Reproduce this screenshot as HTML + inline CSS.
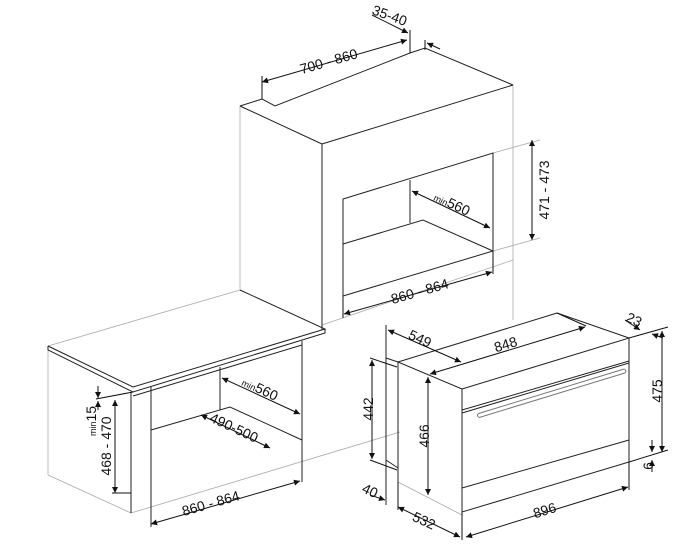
<!DOCTYPE html>
<html><head><meta charset="utf-8"><style>
html,body{margin:0;padding:0;background:#fff}
svg{display:block}
text{font-family:"Liberation Sans",sans-serif;font-size:14px;fill:#111}
.s{font-size:9px}
</style></head><body>
<svg width="700" height="560" viewBox="0 0 700 560" xmlns="http://www.w3.org/2000/svg">
<defs>
<marker id="a" viewBox="0 0 10 10" refX="10" refY="5" markerWidth="8" markerHeight="6" orient="auto-start-reverse" markerUnits="userSpaceOnUse"><path d="M0,0 L10,5 L0,10 z" fill="#111"/></marker>
</defs>
<g fill="none" stroke="#aaa" stroke-width="0.8">
<line x1="240" y1="106" x2="240" y2="290"/>
<line x1="513" y1="85" x2="513" y2="320"/>
<line x1="322" y1="325" x2="513" y2="260"/>
<line x1="48" y1="350" x2="48" y2="475"/>
<line x1="48" y1="475" x2="131" y2="513"/>
<line x1="131" y1="513" x2="400" y2="432"/>
<line x1="48" y1="346" x2="240" y2="290"/>
<line x1="493" y1="153" x2="540" y2="140"/>
<line x1="493" y1="251" x2="540" y2="238"/>
<line x1="398" y1="482" x2="462" y2="515"/>
</g>
<g fill="none" stroke="#222" stroke-width="1">
<polyline points="240,106 262,99 275,106 410,53 425,48 513,85"/>
<line x1="240" y1="106" x2="322" y2="144"/>
<line x1="322" y1="144" x2="513" y2="85"/>
<line x1="322" y1="144" x2="322" y2="330"/>
<polyline points="343,296 343,199 493,153 493,251 343,296"/>
<line x1="410" y1="180" x2="410" y2="223"/>
<polyline points="343,244 423,220 493,251"/>
<polyline points="48,346 133,387 325,329 240,290"/>
<polyline points="48,346 48,350 133,392 325,333 325,329"/>
<line x1="133" y1="396" x2="302" y2="345"/>
<line x1="131" y1="392" x2="131" y2="513"/>
<line x1="302" y1="341" x2="302" y2="482"/>
<line x1="151" y1="387" x2="151" y2="527"/>
<line x1="220" y1="367" x2="220" y2="410"/>
<polyline points="151,430 230,407 302,440"/>
<line x1="386" y1="325" x2="386" y2="505"/>
<polyline points="386,358 398,362 398,482"/>
<polyline points="386,460 398,468"/>
<line x1="398" y1="362" x2="462" y2="389"/>
<line x1="398" y1="362" x2="557" y2="313"/>
<line x1="557" y1="313" x2="629" y2="338"/>
<polyline points="462,389 629,338 629,462 462,512 462,389"/>
<line x1="462" y1="410" x2="629" y2="361"/>
<line x1="462" y1="413" x2="629" y2="363"/>
<line x1="462" y1="488" x2="629" y2="440"/>
<rect x="0" y="0" width="155" height="4" rx="2" transform="translate(477,414) rotate(-17)" stroke="#777"/>
</g>
<g fill="none" stroke="#111" stroke-width="1">
<line x1="262" y1="76" x2="262" y2="99"/>
<line x1="410" y1="30" x2="410" y2="53"/>
<line x1="425" y1="40" x2="425" y2="50"/>
<line x1="262" y1="82" x2="407" y2="40" marker-start="url(#a)" marker-end="url(#a)"/>
<line x1="372" y1="15" x2="408" y2="33" marker-end="url(#a)"/>
<line x1="440" y1="49" x2="427" y2="43" marker-end="url(#a)"/>
<line x1="412" y1="191" x2="490" y2="228" marker-start="url(#a)" marker-end="url(#a)"/>
<line x1="343" y1="296" x2="343" y2="318"/>
<line x1="493" y1="251" x2="493" y2="274"/>
<line x1="344" y1="314" x2="492" y2="272" marker-start="url(#a)" marker-end="url(#a)"/>
<line x1="532" y1="140" x2="532" y2="240" marker-start="url(#a)" marker-end="url(#a)"/>
<line x1="222" y1="378" x2="300" y2="414" marker-start="url(#a)" marker-end="url(#a)"/>
<line x1="201" y1="415" x2="270" y2="448" marker-start="url(#a)" marker-end="url(#a)"/>
<line x1="151" y1="524" x2="300" y2="481" marker-start="url(#a)" marker-end="url(#a)"/>
<line x1="115" y1="400" x2="115" y2="493" marker-start="url(#a)" marker-end="url(#a)"/>
<line x1="112" y1="493" x2="131" y2="493"/>
<line x1="96" y1="399" x2="133" y2="392"/>
<line x1="98" y1="386" x2="98" y2="398" marker-end="url(#a)"/>
<line x1="98" y1="410" x2="98" y2="401" marker-end="url(#a)"/>
<line x1="388" y1="330" x2="461" y2="362" marker-start="url(#a)" marker-end="url(#a)"/>
<line x1="430" y1="374" x2="585" y2="327" marker-start="url(#a)" marker-end="url(#a)"/>
<line x1="557" y1="313" x2="586" y2="326"/>
<line x1="629" y1="338" x2="668" y2="327"/>
<line x1="629" y1="462" x2="668" y2="450"/>
<line x1="625" y1="320" x2="640" y2="330" marker-end="url(#a)"/>
<line x1="663" y1="338" x2="652" y2="334" marker-end="url(#a)"/>
<line x1="662" y1="331" x2="662" y2="452" marker-start="url(#a)" marker-end="url(#a)"/>
<line x1="652" y1="440" x2="652" y2="452" marker-end="url(#a)"/>
<line x1="652" y1="472" x2="652" y2="460" marker-end="url(#a)"/>
<line x1="370" y1="358" x2="397" y2="367"/>
<line x1="370" y1="460" x2="397" y2="470"/>
<line x1="372" y1="360" x2="372" y2="459" marker-start="url(#a)" marker-end="url(#a)"/>
<line x1="428" y1="377" x2="428" y2="495" marker-start="url(#a)" marker-end="url(#a)"/>
<line x1="370" y1="495" x2="385" y2="500" marker-end="url(#a)"/>
<line x1="398" y1="482" x2="398" y2="510"/>
<line x1="462" y1="512" x2="462" y2="540"/>
<line x1="629" y1="462" x2="629" y2="490"/>
<line x1="398" y1="507" x2="460" y2="537" marker-start="url(#a)" marker-end="url(#a)"/>
<line x1="466" y1="537" x2="628" y2="487" marker-start="url(#a)" marker-end="url(#a)"/>
</g>
<text transform="translate(330,66) rotate(-16)" text-anchor="middle">700 - 860</text>
<text transform="translate(388,20) rotate(20)" text-anchor="middle">35-40</text>
<text transform="translate(450,208) rotate(25)" text-anchor="middle"><tspan class="s">min</tspan>560</text>
<text transform="translate(421,296) rotate(-16)" text-anchor="middle">860 - 864</text>
<text transform="translate(549,190) rotate(-90)" text-anchor="middle">471 - 473</text>
<text transform="translate(258,393) rotate(25)" text-anchor="middle"><tspan class="s">min</tspan>560</text>
<text transform="translate(232,432) rotate(25)" text-anchor="middle">490-500</text>
<text transform="translate(212,508) rotate(-16)" text-anchor="middle">860 - 864</text>
<text transform="translate(111,446) rotate(-90)" text-anchor="middle">468 - 470</text>
<text transform="translate(96,421) rotate(-90)" text-anchor="middle"><tspan class="s">min</tspan>15</text>
<text transform="translate(418,343) rotate(25)" text-anchor="middle">549</text>
<text transform="translate(507,349) rotate(-17)" text-anchor="middle">848</text>
<text transform="translate(632,324) rotate(25)" text-anchor="middle">23</text>
<text transform="translate(662,391) rotate(-90)" text-anchor="middle">475</text>
<text transform="translate(653,466) rotate(-90)" text-anchor="middle">6</text>
<text transform="translate(373,409) rotate(-90)" text-anchor="middle">442</text>
<text transform="translate(429,436) rotate(-90)" text-anchor="middle">466</text>
<text transform="translate(368,495) rotate(25)" text-anchor="middle">40</text>
<text transform="translate(422,525) rotate(25)" text-anchor="middle">532</text>
<text transform="translate(546,515) rotate(-17)" text-anchor="middle">896</text>
</svg>
</body></html>
